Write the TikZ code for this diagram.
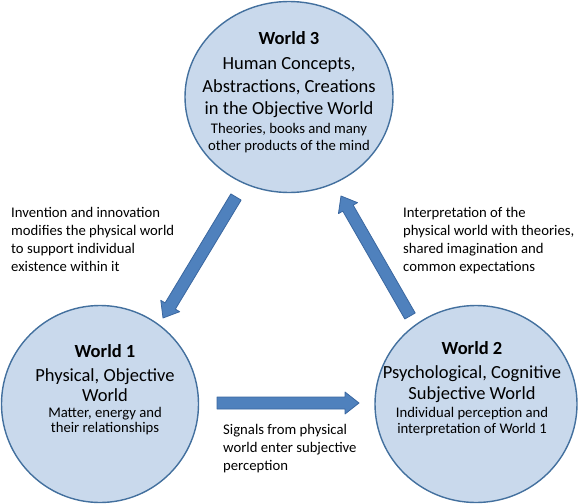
\documentclass[tikz,border=0pt]{standalone}
\usepackage{fontspec}
\setmainfont{Carlito}
\usetikzlibrary{shapes.geometric,calc}
\definecolor{circfill}{HTML}{C9D9EC}
\definecolor{circline}{HTML}{43709E}
\definecolor{arrfill}{HTML}{4F81BD}
\definecolor{arrline}{HTML}{3A67A0}
\tikzset{
  world/.style={ellipse, draw=circline, fill=circfill, line width=1.4pt, inner sep=0pt},
  bigline/.style={anchor=base, inner sep=0pt, font=\fontsize{18.5}{22}\selectfont},
  titleline/.style={bigline, font=\fontsize{18.5}{22}\selectfont\bfseries},
  smallline/.style={anchor=base, inner sep=0pt, font=\fontsize{14.7}{18}\selectfont},
  lbl/.style={align=left, anchor=north west, inner sep=0pt, font=\fontsize{14.7}{18}\selectfont},
  bigarrow/.style={draw=arrline, fill=arrfill, line width=0.8pt, line join=round}
}
\newcommand{\fatarrow}[2]{%
  \coordinate (hb) at ($(#2)!14pt!(#1)$);
  \draw[bigarrow] ($(#1)!6pt!90:(#2)$) -- ($(hb)!6pt!-90:(#1)$) -- ($(hb)!11pt!-90:(#1)$) -- (#2)
     -- ($(hb)!11pt!90:(#1)$) -- ($(hb)!6pt!90:(#1)$) -- ($(#1)!6pt!-90:(#2)$) -- cycle;}
\begin{document}
\begin{tikzpicture}[x=1pt,y=-1pt]
\useasboundingbox (0,0) rectangle (588,503);
% circles
\node[world, minimum width=208pt, minimum height=191pt] (w3) at (289,97) {};
\node[world, minimum width=197pt, minimum height=197pt] (w1) at (100,404) {};
\node[world, minimum width=202pt, minimum height=197pt] (w2) at (476,404) {};
% World 3 texts
\node[titleline] (t3a) at (289,45) {World 3};
\node[bigline] (t3b) at (289,69) {Human Concepts,};
\node[bigline] (t3c) at (289,92) {Abstractions, Creations};
\node[bigline] (t3d) at (289,114) {in the Objective World};
\node[smallline] (t3e) at (289,133) {Theories, books and many};
\node[smallline] (t3f) at (289,150) {other products of the mind};
% World 1 texts
\node[titleline] (t1a) at (105,357) {World 1};
\node[bigline] (t1b) at (105,381) {Physical, Objective};
\node[bigline] (t1c) at (105,401) {World};
\node[smallline] (t1d) at (105,417) {Matter, energy and};
\node[smallline] (t1e) at (105,432) {their relationships};
% World 2 texts
\node[titleline] (t2a) at (472,354) {World 2};
\node[bigline] (t2b) at (472,378) {Psychological, Cognitive};
\node[bigline] (t2c) at (472,399) {Subjective World};
\node[smallline] (t2d) at (472,417) {Individual perception and};
\node[smallline] (t2e) at (472,433) {interpretation of World 1};
% labels
\node[lbl] (l31) at (11,207.5) {Invention and innovation\\modifies the physical world\\to support individual\\existence within it};
\node[lbl] (l23) at (403,207.5) {Interpretation of the\\physical world with theories,\\shared imagination and\\common expectations};
\node[lbl] (l12) at (223,424.5) {Signals from physical\\world enter subjective\\perception};
% arrow end points
\coordinate (a31s) at (236,197);
\coordinate (a31e) at (163,318);
\coordinate (a23s) at (410,316);
\coordinate (a23e) at (341,196);
\coordinate (a12s) at (217,403);
\coordinate (a12e) at (359,403);
\fatarrow{a31s}{a31e}
\fatarrow{a23s}{a23e}
\fatarrow{a12s}{a12e}
\end{tikzpicture}
\end{document}
